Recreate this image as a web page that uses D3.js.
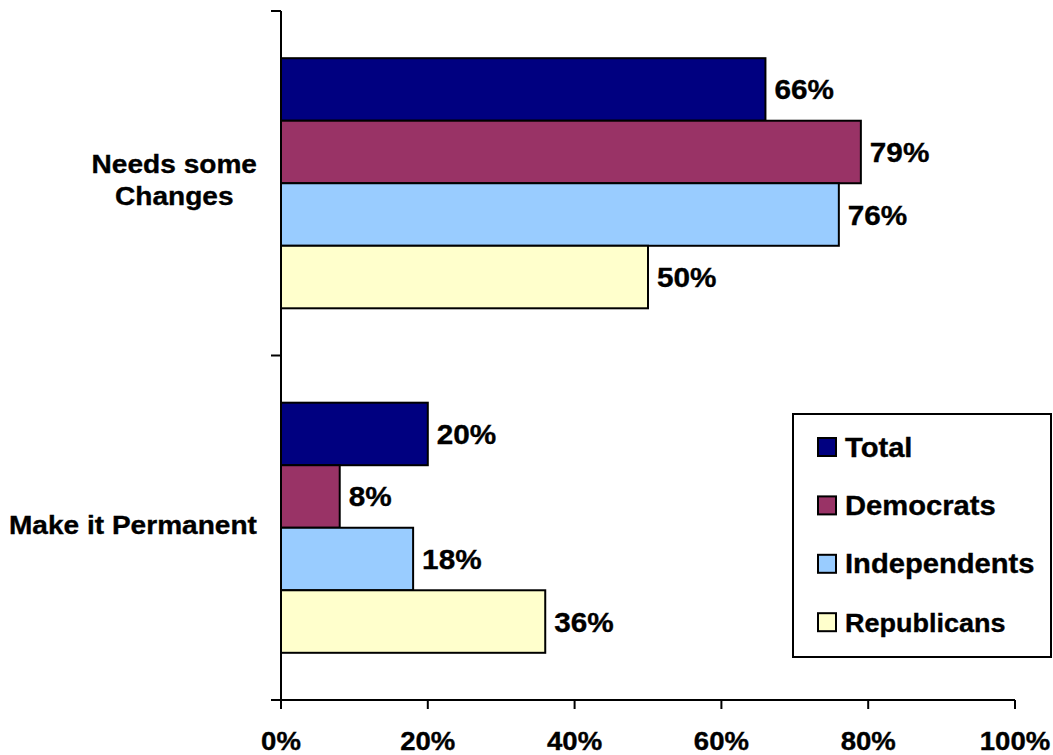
<!DOCTYPE html>
<html>
<head>
<meta charset="utf-8">
<script src="https://cdn.jsdelivr.net/npm/d3@7"></script>
<style>
  html, body { margin: 0; padding: 0; background: #fff; }
  svg { display: block; }
  text { font-family: "Liberation Sans", Arial, sans-serif; font-weight: bold; fill: #000; stroke: #000; stroke-width: 0.35px; }
</style>
</head>
<body>
<svg id="chart" width="1053" height="755"></svg>
<script>
// ---- data ----
const categories = ["Needs some Changes", "Make it Permanent"];
const categoryLines = [["Needs some", "Changes"], ["Make it Permanent"]];
const seriesNames = ["Total", "Democrats", "Independents", "Republicans"];
const seriesColors = ["#000080", "#993366", "#99CCFF", "#FFFFCC"];
const totalValues = [66, 20];
const democratValues = [79, 8];
const independentValues = [76, 18];
const republicanValues = [50, 36];
const xTicks = [0, 20, 40, 60, 80, 100];
const xTickLabels = ["0%", "20%", "40%", "60%", "80%", "100%"];

const seriesValues = [totalValues, democratValues, independentValues, republicanValues];

// ---- layout ----
const svg = d3.select("#chart");
const plotLeft = 281, plotRight = 1015, plotTop = 11, plotBottom = 700;
const SX = 1.08; // horizontal stretch of the reference's lettering

const x = d3.scaleLinear().domain([0, 100]).range([plotLeft, plotRight]);
const y = d3.scaleBand().domain(categories).range([plotTop, plotBottom]).padding(0);
const inner = d3.scaleBand().domain(seriesNames)
  .range([y.bandwidth() * 0.137, y.bandwidth() * 0.863]).padding(0);

function stretchedText(g, tx, ty, str, size, anchor) {
  const holder = g.append("g").attr("transform", `translate(${tx},${ty}) scale(${SX},1)`);
  return holder.append("text").attr("x", 0).attr("y", 0)
    .attr("font-size", size).attr("text-anchor", anchor || "start").text(str);
}

// ---- bars ----
const barsG = svg.append("g");
categories.forEach((cat, ci) => {
  seriesNames.forEach((s, si) => {
    const v = seriesValues[si][ci];
    const y0 = y(cat) + inner(s);
    barsG.append("rect")
      .attr("x", x(0)).attr("y", y0)
      .attr("width", x(v) - x(0)).attr("height", inner.bandwidth())
      .attr("fill", seriesColors[si])
      .attr("stroke", "#000").attr("stroke-width", 2);
    stretchedText(barsG, x(v) + 9, y0 + inner.bandwidth() / 2 + 10, v + "%", 27.5, "start");
  });
});

// ---- axes ----
const axisG = svg.append("g").attr("stroke", "#000").attr("stroke-width", 2);
axisG.append("line").attr("x1", plotLeft).attr("x2", plotLeft).attr("y1", plotTop).attr("y2", plotBottom);
const yBounds = [plotTop, y(categories[1]), plotBottom];
yBounds.forEach(b => {
  axisG.append("line").attr("x1", plotLeft - 10).attr("x2", plotLeft).attr("y1", b).attr("y2", b);
});
axisG.append("line").attr("x1", plotLeft - 10).attr("x2", plotRight).attr("y1", plotBottom).attr("y2", plotBottom);
xTicks.forEach(t => {
  axisG.append("line").attr("x1", x(t)).attr("x2", x(t)).attr("y1", plotBottom).attr("y2", plotBottom + 9);
});
const xLabG = svg.append("g");
xTicks.forEach((t, i) => {
  stretchedText(xLabG, x(t), 750, xTickLabels[i], 25.5, "middle");
});

// ---- category labels ----
const catG = svg.append("g");
categories.forEach((cat, ci) => {
  const lines = categoryLines[ci];
  const lineH = 32;
  const cy = y(cat) + y.bandwidth() / 2 - 3;
  const firstBase = cy + 9 - (lines.length - 1) * lineH / 2;
  const tmp = svg.append("text").attr("font-size", 26);
  let maxW = 0;
  lines.forEach(l => { tmp.text(l); maxW = Math.max(maxW, tmp.node().getComputedTextLength() * SX); });
  tmp.remove();
  const cx = 257 - maxW / 2;
  lines.forEach((l, li) => {
    stretchedText(catG, cx, firstBase + li * lineH, l, 26, "middle");
  });
});

// ---- legend ----
const legG = svg.append("g");
legG.append("rect").attr("x", 793).attr("y", 414).attr("width", 258).attr("height", 243)
  .attr("fill", "#fff").attr("stroke", "#000").attr("stroke-width", 2);
const legendSizes = [27, 27, 27, 25];
seriesNames.forEach((s, i) => {
  const sy = 438 + i * 58.4;
  legG.append("rect").attr("x", 818).attr("y", sy).attr("width", 18).attr("height", 18)
    .attr("fill", seriesColors[i]).attr("stroke", "#000").attr("stroke-width", 2);
  stretchedText(legG, 845, sy + 18.5, s, legendSizes[i], "start");
});
</script>
</body>
</html>
